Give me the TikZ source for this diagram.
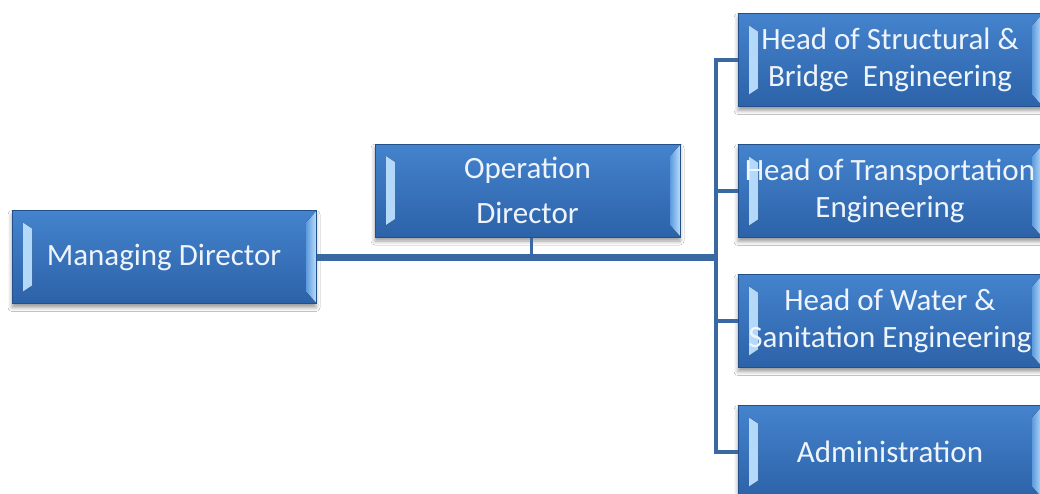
\documentclass[tikz,border=0pt]{standalone}
\usepackage{fontspec}
\setmainfont{Carlito}
\usetikzlibrary{shadows.blur}
\definecolor{boxtop}{HTML}{4483CD}
\definecolor{boxbot}{HTML}{2C62A8}
\definecolor{boxedge}{HTML}{24508A}
\definecolor{bevlight}{HTML}{B8DCFB}
\definecolor{bevmid}{HTML}{5C9ADD}
\definecolor{linkblue}{HTML}{3A68A3}
\definecolor{txt}{HTML}{EEF4FC}
\tikzset{
  orgbox/.style={rectangle, draw=boxedge, line width=1pt,
    top color=boxtop, bottom color=boxbot,
    minimum width=304pt, minimum height=93pt, inner sep=0pt,
    text=txt, align=center, font=\fontsize{31}{37}\selectfont,
    blur shadow={shadow xshift=0pt, shadow yshift=-4pt, shadow blur radius=4pt, shadow opacity=40},
    path picture={
      \fill[left color=bevlight, right color=bevmid]
        ([shift={(11,12)}]path picture bounding box.north west) --
        ([shift={(20,18)}]path picture bounding box.north west) --
        ([shift={(20,-18)}]path picture bounding box.south west) --
        ([shift={(11,-12)}]path picture bounding box.south west) -- cycle;
      \fill[left color=bevmid, right color=bevlight]
        ([shift={(-10,12)}]path picture bounding box.north east) --
        ([shift={(0,1)}]path picture bounding box.north east) --
        ([shift={(0,-1)}]path picture bounding box.south east) --
        ([shift={(-10,-12)}]path picture bounding box.south east) -- cycle;
    }},
  link/.style={draw=linkblue, line width=4.5pt},
}
\begin{document}
\begin{tikzpicture}[x=1pt, y=-1pt]
  \fill[white] (0,0) rectangle (1040,493);
  \useasboundingbox (0,0) rectangle (1040,493);
  \clip (0,0) rectangle (1040,493);

  \node[orgbox] (md) at (164,257) {Managing Director};
  \node[orgbox, minimum width=305pt] (od) at (527.5,190.5) {Operation\\[8pt]Director};
  \node[orgbox] (h1) at (890,60) {Head of Structural \&\\Bridge\ \ Engineering};
  \node[orgbox] (h2) at (890,191) {Head of Transportation\\Engineering};
  \node[orgbox] (h3) at (890,321) {Head of Water \&\\Sanitation Engineering};
  \node[orgbox] (h4) at (890,452) {Administration};

  \coordinate (hub) at (716,257);

  \draw[link, line width=7pt] (md.east) -- (md.east -| hub);
  \draw[link, line width=3pt] ([xshift=4pt]od.south) -- ([xshift=4pt]od.south |- md.east);
  \draw[link] (h1.west) -- (h1.west -| hub) -- (h4.west -| hub) -- (h4.west);
  \draw[link] (h2.west) -- (h2.west -| hub);
  \draw[link] (h3.west) -- (h3.west -| hub);
\end{tikzpicture}
\end{document}
